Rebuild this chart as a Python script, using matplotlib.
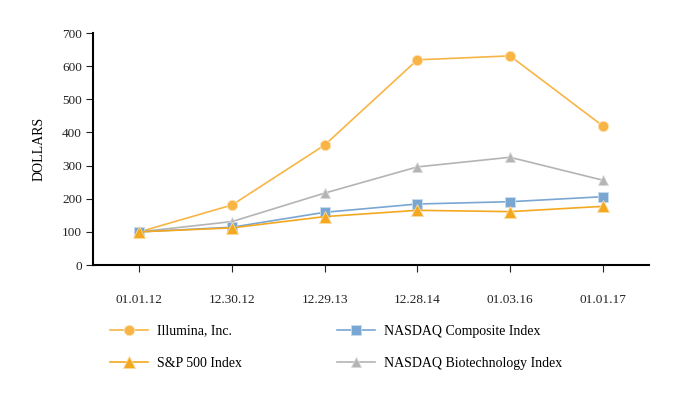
import matplotlib
matplotlib.use("Agg")
import matplotlib.pyplot as plt

plt.rcParams['font.family'] = ['Liberation Serif', 'DejaVu Serif']

dates = ["01.01.12", "12.30.12", "12.29.13", "12.28.14", "01.03.16", "01.01.17"]
illumina = [100, 181, 362, 619, 631, 420]
nasdaq_comp = [100, 114, 159, 184, 191, 206]
sp500 = [100, 112, 146, 165, 161, 177]
nasdaq_bio = [100, 131, 217, 296, 325, 256]

fig = plt.figure(figsize=(6.82, 4), dpi=100)
ax = fig.add_axes([0.1364, 0.3375, 0.8152, 0.58])

x = range(len(dates))
l1, = ax.plot(x, illumina, color="#F8B546", lw=1.2, marker="o", ms=7.5,
              mec="#FCE3B8", mew=0.6, label="Illumina, Inc.")
l3, = ax.plot(x, nasdaq_bio, color="#B4B4B4", lw=1.2, marker="^", ms=7.5,
              mec="#DADADA", mew=0.6, label="NASDAQ Biotechnology Index")
l2, = ax.plot(x, nasdaq_comp, color="#7AA6D2", lw=1.2, marker="s", ms=7,
              mec="#C9DCEF", mew=0.6, label="NASDAQ Composite Index")
l4, = ax.plot(x, sp500, color="#F4A81F", lw=1.2, marker="^", ms=9,
              mec="#FBDCA0", mew=0.6, label="S&P 500 Index")

ax.set_xlim(-0.5, 5.5)
ax.set_ylim(0, 700)
ax.set_xticks(list(x))
ax.set_xticklabels(dates)
ax.set_yticks(range(0, 701, 100))
ax.set_ylabel("DOLLARS", fontsize=10, labelpad=12)
ax.tick_params(axis='both', labelsize=9.5, colors="#222222", length=5, width=0.8)
ax.tick_params(axis='x', pad=16)
ax.tick_params(axis='y', pad=3)

for s in ["top", "right"]:
    ax.spines[s].set_visible(False)
ax.spines["left"].set_linewidth(1.5)
ax.spines["bottom"].set_linewidth(1.5)

fig.legend(handles=[l1, l4, l2, l3], ncol=2, frameon=False,
           loc="upper left", bbox_to_anchor=(0.143, 0.22),
           fontsize=10, handlelength=2.75, columnspacing=6.8,
           labelspacing=1.4, handletextpad=0.65)

fig.savefig("out.png", dpi=100)
